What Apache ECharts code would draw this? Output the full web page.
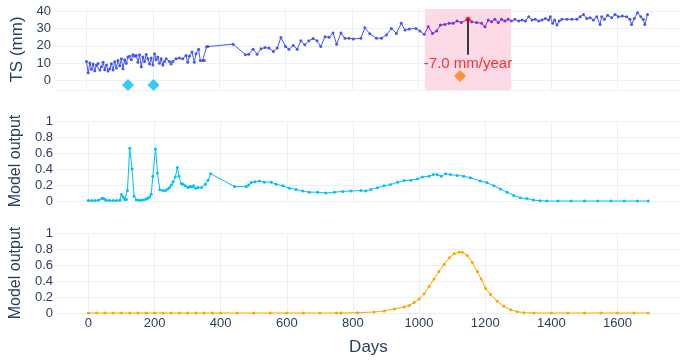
<!DOCTYPE html>
<html lang="en">
<head>
    <meta charset="UTF-8">
    <title>TS and model output</title>
    <style>
        html, body { margin: 0; padding: 0; background: #fff; }
        #chart { width: 694px; height: 360px; }
    </style>
</head>
<body>
<div id="chart"></div>
<script src="https://cdn.jsdelivr.net/npm/echarts@6/dist/echarts.min.js"></script>
<script>
    // TS (mm) series
    var tsDays = [0, 5, 10, 15, 20, 25, 30, 35, 40, 45, 50, 55, 60, 65, 70, 75, 80, 85, 90, 95, 100, 105, 110, 115, 120, 125, 130, 135, 140, 145, 150, 155, 160, 165, 170, 175, 180, 185, 190, 195, 200, 205, 210, 215, 220, 225, 230, 235, 240, 250, 255, 260, 270, 280, 290, 300, 305, 310, 318, 325, 330, 338, 343, 350, 355, 362, 366,
        442, 479, 489, 502, 514, 526, 538, 550, 563, 575, 586, 600, 610, 623, 635, 646, 658, 670, 683, 695, 706, 719, 731, 743, 754, 767, 779, 791, 804, 827, 839, 854, 874, 889, 904, 919, 934, 949, 960, 973, 993,
        1005, 1018, 1030, 1043, 1055, 1067, 1080, 1093, 1105, 1117, 1130, 1150, 1161, 1176, 1191, 1201, 1211, 1221, 1231, 1241, 1251, 1261, 1271, 1281, 1291, 1303, 1313, 1323, 1333, 1343, 1353, 1363, 1373, 1383, 1393, 1398,
        1405, 1411, 1418, 1425, 1433, 1448, 1463, 1478, 1488, 1498, 1508, 1518, 1528, 1538, 1548, 1553, 1561, 1571, 1583, 1593, 1603, 1615, 1628, 1638, 1643, 1651, 1661, 1671, 1678, 1683, 1691];
    var tsValues = [11.0, 4.4, 10.1, 6.5, 9.5, 5.6, 8.8, 9.8, 6.0, 8.0, 10.5, 6.2, 9.0, 5.5, 6.8, 9.6, 6.0, 10.8, 7.2, 11.5, 8.5, 12.5, 6.8, 12.0, 10.0, 13.5, 14.0, 12.0, 14.8, 14.0, 14.5, 10.5, 14.8, 8.0, 13.5, 11.0, 15.0, 12.5, 9.5, 13.0, 9.0, 15.5, 12.0, 13.5, 10.0, 12.5, 9.0, 11.0, 12.5, 11.0, 9.5, 11.0, 12.5, 13.0, 12.5, 14.5, 10.5, 14.0, 16.5, 10.5, 15.5, 18.0, 11.5, 11.5, 11.5, 19.5, 19.6,
        21.0, 14.9, 15.2, 18.1, 15.2, 18.3, 19.0, 18.7, 16.8, 18.7, 24.8, 19.6, 18.1, 20.2, 18.1, 22.9, 20.6, 22.9, 24.2, 22.9, 19.6, 25.3, 25.0, 27.4, 21.0, 27.4, 24.4, 24.4, 24.0, 24.4, 30.5, 27.0, 24.4, 24.4, 26.3, 30.1, 27.2, 33.0, 29.1, 29.7, 30.1,
        28.6, 26.7, 31.0, 27.2, 28.6, 32.0, 32.4, 33.0, 33.0, 34.3, 33.5, 35.4, 33.9, 33.5, 33.0, 31.0, 34.9, 33.9, 35.4, 33.5, 35.4, 34.3, 35.4, 34.3, 35.4, 34.3, 34.9, 34.3, 36.8, 34.9, 35.4, 34.3, 34.9, 35.8, 34.9, 36.8,
        33.0, 34.9, 32.0, 34.3, 35.4, 35.4, 35.4, 35.4, 36.8, 38.1, 35.8, 36.2, 34.9, 36.8, 32.4, 36.8, 35.4, 37.7, 36.2, 38.1, 36.8, 37.3, 36.8, 35.4, 32.4, 35.8, 39.2, 36.8, 35.4, 32.4, 38.1];

    // first model output (light blue)
    var out1Days = [0, 10, 20, 30, 40, 45, 50, 55, 65, 75, 85, 95, 100, 105, 110, 115, 118, 125, 132, 138, 145, 152, 160, 168, 175, 180, 185, 190, 195, 203, 209, 216, 225, 233, 240, 246, 251, 256, 263, 269, 274, 281, 286, 293, 301, 306, 312, 318, 325, 332, 342, 354, 362, 370,
        442, 477, 485, 492, 504, 517, 532, 553, 568, 588, 608, 628, 648, 668, 693, 718, 744, 769, 794, 824, 839, 854, 874, 894, 914, 935, 955, 975, 995,
        1010, 1030, 1043, 1055, 1067, 1080, 1095, 1115, 1135, 1155, 1185, 1205, 1226, 1246, 1266, 1286, 1306, 1326, 1346, 1366, 1386, 1420, 1460, 1500, 1540, 1580, 1620, 1660, 1693];
    var out1Values = [0.005, 0.005, 0.005, 0.01, 0.03, 0.035, 0.02, 0.005, 0.005, 0.005, 0.005, 0.01, 0.08, 0.05, 0.02, 0.02, 0.13, 0.66, 0.40, 0.06, 0.015, 0.01, 0.01, 0.015, 0.025, 0.035, 0.05, 0.085, 0.31, 0.65, 0.35, 0.14, 0.13, 0.13, 0.15, 0.17, 0.20, 0.24, 0.30, 0.42, 0.31, 0.22, 0.21, 0.19, 0.17, 0.18, 0.18, 0.19, 0.16, 0.17, 0.17, 0.21, 0.26, 0.34,
        0.18, 0.18, 0.20, 0.23, 0.24, 0.25, 0.235, 0.235, 0.21, 0.19, 0.16, 0.145, 0.125, 0.11, 0.11, 0.10, 0.11, 0.12, 0.125, 0.13, 0.125, 0.145, 0.165, 0.19, 0.205, 0.235, 0.255, 0.26, 0.275,
        0.30, 0.31, 0.33, 0.33, 0.31, 0.34, 0.33, 0.32, 0.31, 0.29, 0.25, 0.23, 0.19, 0.15, 0.11, 0.07, 0.04, 0.03, 0.012, 0.004, 0, 0, 0, 0, 0, 0, 0, 0, 0];

    // second model output (orange)
    var out2Days = [0, 25, 50, 75, 100, 125, 150, 175, 200, 225, 250, 275, 300, 325, 350, 375, 400, 450, 500, 550, 600, 650, 700, 750, 764, 814, 864, 895, 925, 955, 970, 985,
        1000, 1015, 1030, 1045, 1060, 1076, 1091, 1106, 1121, 1131, 1146, 1161, 1176, 1188, 1201, 1216, 1236, 1256, 1277, 1297, 1317, 1347, 1400, 1450, 1500, 1550, 1600, 1650, 1693];
    var out2Values = [0, 0, 0, 0, 0, 0, 0, 0, 0, 0, 0, 0, 0, 0, 0, 0, 0, 0, 0, 0, 0, 0, 0, 0, 0, 0.004, 0.0125, 0.025, 0.05, 0.075, 0.095, 0.13,
        0.175, 0.24, 0.33, 0.425, 0.52, 0.61, 0.69, 0.74, 0.76, 0.76, 0.72, 0.63, 0.52, 0.425, 0.31, 0.23, 0.15, 0.085, 0.04, 0.017, 0.004, 0, 0, 0, 0, 0, 0, 0, 0];

    // markers and annotation on the TS panel
    var blueEvents = [[125, -2.6], [202, -2.6]];
    var orangeEvents = [[1126, 2.6]];
    var fitWindow = [1020, 1280];
    var arrowFrom = [1150, 14.8];
    var arrowTo = [1150, 35.4];
    var rateText = '-7.0 mm/year';
    var rateTextPos = [1150, 9.6];

    var font = '"Liberation Sans", Arial, sans-serif';
    var grey = '#2a3f5f';
    var gridColor = '#ebf0f8';

    function zip(xs, ys) {
        return xs.map(function (x, i) { return [x, ys[i]]; });
    }

    function xAxisFor(idx, last) {
        return {
            type: 'value', gridIndex: idx, min: -95, max: 1789, splitNumber: 9,
            axisLine: { show: false }, axisTick: { show: false },
            axisLabel: {
                show: last, color: grey, fontSize: 13, fontFamily: font, margin: 4,
                showMinLabel: false, showMaxLabel: false,
                formatter: function (v) { return String(v); }
            },
            splitLine: { show: true, showMinLine: false, showMaxLine: false, lineStyle: { color: gridColor, width: 1 } },
            name: last ? 'Days' : '', nameLocation: 'middle', nameGap: 26,
            nameTextStyle: { color: grey, fontSize: 17, fontFamily: font }
        };
    }

    function unitYAxis(idx) {
        return {
            type: 'value', gridIndex: idx, min: 0, max: 1, interval: 0.2,
            axisLine: { show: false }, axisTick: { show: false },
            axisLabel: { color: grey, fontSize: 13, fontFamily: font, margin: 4 },
            splitLine: { lineStyle: { color: gridColor, width: 1 } },
            name: 'Model output', nameLocation: 'middle', nameGap: 27,
            nameTextStyle: { color: grey, fontSize: 16, fontFamily: font }
        };
    }

    var chart = echarts.init(document.getElementById('chart'), null, { renderer: 'canvas' });

    var option = {
        animation: false,
        backgroundColor: '#fff',
        grid: [
            { left: 55, right: 14, top: 9, height: 81 },
            { left: 55, right: 14, top: 121, height: 80 },
            { left: 55, right: 14, top: 233, height: 80 }
        ],
        xAxis: [xAxisFor(0, false), xAxisFor(1, false), xAxisFor(2, true)],
        yAxis: [
            {
                type: 'value', gridIndex: 0, min: -5.5, max: 41.3, splitNumber: 5,
                axisLine: { show: false }, axisTick: { show: false },
                axisLabel: { color: grey, fontSize: 13, fontFamily: font, margin: 4, showMinLabel: false, showMaxLabel: false },
                splitLine: { showMinLine: true, showMaxLine: false, lineStyle: { color: gridColor, width: 1 } },
                name: 'TS (mm)', nameLocation: 'middle', nameGap: 27,
                nameTextStyle: { color: grey, fontSize: 17, fontFamily: font }
            },
            unitYAxis(1),
            unitYAxis(2)
        ],
        visualMap: {
            type: 'piecewise', show: false, seriesIndex: 1, dimension: 0,
            pieces: [{ gte: fitWindow[0], lte: fitWindow[1], color: '#7b2fd4' }],
            outOfRange: { color: '#4656f2' }
        },
        series: [
            {
                // shaded fit window
                type: 'line', xAxisIndex: 0, yAxisIndex: 0, data: [], z: 1,
                markArea: {
                    silent: true,
                    itemStyle: { color: '#fddbe6' },
                    data: [[{ xAxis: fitWindow[0] }, { xAxis: fitWindow[1] }]]
                }
            },
            {
                type: 'line', xAxisIndex: 0, yAxisIndex: 0, z: 3,
                data: zip(tsDays, tsValues),
                symbol: 'circle', symbolSize: 3, showSymbol: true,
                lineStyle: { width: 1 }
            },
            {
                type: 'scatter', xAxisIndex: 0, yAxisIndex: 0, z: 4, clip: false,
                data: blueEvents, symbol: 'diamond', symbolSize: 12,
                itemStyle: { color: '#00bfff' }
            },
            {
                type: 'scatter', xAxisIndex: 0, yAxisIndex: 0, z: 4, clip: false,
                data: orangeEvents, symbol: 'diamond', symbolSize: 12,
                itemStyle: { color: '#ff7f0e' }
            },
            {
                // annotation arrow and red target point
                type: 'scatter', xAxisIndex: 0, yAxisIndex: 0, z: 5,
                data: [arrowTo], symbol: 'circle', symbolSize: 5,
                itemStyle: { color: '#ff0000' },
                markLine: {
                    silent: true, symbol: ['none', 'arrow'], symbolSize: [0, 9],
                    lineStyle: { color: '#000', width: 1.5, type: 'solid' },
                    label: { show: false },
                    data: [[{ coord: arrowFrom }, { coord: arrowTo }]]
                }
            },
            {
                type: 'scatter', xAxisIndex: 0, yAxisIndex: 0, z: 6, clip: false,
                data: [rateTextPos], symbolSize: 0,
                label: {
                    show: true, position: 'inside', formatter: rateText,
                    color: '#ff0000', fontSize: 15, fontFamily: font
                }
            },
            {
                type: 'line', xAxisIndex: 1, yAxisIndex: 1, clip: false,
                data: zip(out1Days, out1Values),
                symbol: 'circle', symbolSize: 3, showSymbol: true,
                lineStyle: { width: 1, color: '#00bfff' }, itemStyle: { color: '#00bfff' }
            },
            {
                type: 'line', xAxisIndex: 2, yAxisIndex: 2, clip: false,
                data: zip(out2Days, out2Values),
                symbol: 'circle', symbolSize: 3, showSymbol: true,
                lineStyle: { width: 1, color: '#ffa500' }, itemStyle: { color: '#ffa500' }
            }
        ]
    };

    chart.setOption(option);
</script>
</body>
</html>
